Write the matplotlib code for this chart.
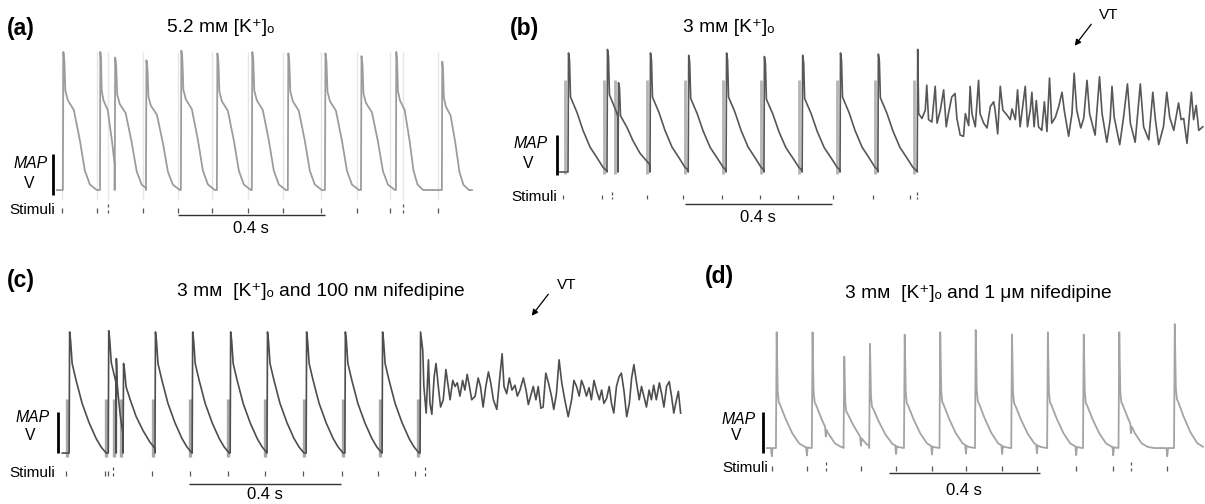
import numpy as np
import matplotlib

matplotlib.use("Agg")
import matplotlib.pyplot as plt
from matplotlib.patches import FancyArrowPatch

plt.rcParams["font.family"] = ["Liberation Sans", "DejaVu Sans"]

W, H = 1205, 504

# ---------------------------------------------------------------- data
# beat shapes: time after upstroke (ms) and MAP amplitude (% of peak)
A_SHAPE_T = [0, 1.4, 4.1, 6.8, 13.6, 29.9, 46.3, 59.9, 73.5, 92.5]
A_SHAPE_V = [0, 100, 94, 72, 65, 58, 36, 14, 4, 0]
B_SHAPE_T = [0, 1.4, 4.1, 6.8, 24.5, 40.8, 59.9, 78.9, 95.2, 108.8]
B_SHAPE_V = [0, 100, 94, 63, 50, 35, 21, 12, 4, 0]
C_SHAPE_T = [0, 1.3, 3.9, 7.9, 18.4, 34.2, 52.6, 71.1, 84.2, 97.4]
C_SHAPE_V = [0, 100, 93, 74, 60, 41, 25, 12, 5, 0]
D_SHAPE_T = [0, 1.9, 4.5, 7.2, 10.6, 23.8, 42.4, 60.9, 76.8, 92.7]
D_SHAPE_V = [0, 100, 49, 39, 37, 26, 13, 4, 1, 0]

# (a) 5.2 mM K+
A_BEATS = [0, 101, 141, 226, 321, 419, 514, 612, 713, 811, 906, 1031]
A_AMPS = [1.0, 1.0, 0.96, 0.94, 1.01, 0.99, 1.0, 0.99, 0.99, 0.97, 1.0, 0.93]
A_WIDTHS = [1, 0.7, 1, 1, 1, 1, 1, 1, 1, 1, 0.8, 0.8]
A_STIM = [-3, 93, 218, 313, 405, 503, 599, 702, 800, 890, 1020]
A_STIM_EXTRA = [122, 925]
A_START, A_END = -16, 1113

# (b) 3 mM K+
B_BEATS = [0, 106, 136, 223, 327, 430, 533, 637, 740, 843, 950]
B_AMPS = [1.0, 1.03, 0.75, 1.0, 0.98, 1.0, 0.97, 0.98, 1.0, 0.99, 1.03]
B_WIDTHS = [1] * 11
B_STIM = [-14, 93, 215, 313, 419, 522, 626, 721, 830, 930]
B_STIM_EXTRA = [120, 950]
B_START = -22
B_VT_T = [954, 963, 972, 976, 981, 990, 999, 1004, 1013, 1022, 1029, 1035,
          1044, 1053, 1058, 1067, 1076, 1081, 1090, 1094, 1099, 1108, 1117,
          1121, 1131, 1140, 1149, 1158, 1162, 1169, 1176, 1183, 1194, 1203,
          1208, 1217, 1223, 1230, 1244, 1250, 1258, 1262, 1268, 1274, 1280,
          1289, 1296, 1303, 1310, 1316, 1326, 1335, 1344, 1350, 1362, 1371,
          1377, 1384, 1395, 1403, 1412, 1419, 1428, 1434, 1446, 1453, 1466,
          1475, 1480, 1486, 1501, 1511, 1522, 1530, 1543, 1557, 1566, 1580,
          1591, 1598, 1607, 1620, 1629, 1637, 1648, 1661, 1668, 1675, 1684,
          1696, 1702, 1709, 1716, 1727]
B_VT_V = [49, 45, 52, 73, 44, 42, 72, 41, 52, 69, 38, 49,
          63, 66, 45, 31, 30, 49, 39, 72, 49, 38, 77,
          49, 41, 37, 55, 59, 52, 32, 72, 52, 48, 44,
          53, 44, 69, 38, 72, 38, 53, 67, 38, 60, 38,
          35, 59, 34, 79, 41, 46, 55, 67, 52, 30, 49,
          83, 52, 37, 45, 77, 49, 38, 31, 80, 49, 25,
          44, 72, 46, 23, 45, 74, 41, 25, 74, 38, 27,
          67, 44, 23, 38, 67, 46, 35, 58, 44, 45, 24,
          67, 44, 56, 35, 38]

# (c) 3 mM K+ and 100 nM nifedipine
C_BEATS = [0, 103, 124, 142, 226, 324, 424, 521, 624, 726, 824, 924]
C_AMPS = [1.0, 1.01, 0.78, 0.74, 1.0, 1.0, 1.0, 1.0, 1.0, 1.0, 1.0, 1.0]
C_WIDTHS = [1, 1, 0.3, 1, 1, 1, 1, 1, 1, 1, 1, 1]
C_STIM = [-8, 95, 103, 218, 318, 418, 516, 616, 718, 813, 911]
C_STIM_EXTRA = [116, 937]
C_START = -18
C_VT_T = [931, 934, 940, 946, 950, 955, 961, 966, 972, 978, 985, 992, 998,
          1003, 1010, 1016, 1022, 1029, 1036, 1042, 1048, 1054, 1060, 1069,
          1077, 1083, 1090, 1097, 1104, 1110, 1117, 1126, 1133, 1140, 1145,
          1152, 1159, 1166, 1174, 1180, 1187, 1196, 1203, 1209, 1215, 1222,
          1229, 1235, 1242, 1248, 1255, 1262, 1270, 1276, 1283, 1290, 1297,
          1305, 1314, 1323, 1329, 1336, 1343, 1349, 1355, 1362, 1369, 1375,
          1382, 1389, 1396, 1402, 1408, 1415, 1422, 1428, 1434, 1441, 1448,
          1454, 1461, 1468, 1475, 1481, 1487, 1494, 1501, 1507, 1513, 1520,
          1527, 1533, 1539, 1546, 1554, 1560, 1566, 1573, 1580, 1586, 1592,
          1599, 1604, 1610]
C_VT_V = [85, 55, 33, 77, 41, 32, 63, 74, 55, 38, 44, 69, 55,
          44, 60, 55, 58, 47, 60, 52, 65, 55, 44, 47,
          62, 55, 38, 55, 67, 58, 44, 36, 60, 82, 55,
          49, 62, 52, 56, 47, 52, 62, 52, 40, 47, 55,
          44, 55, 37, 38, 66, 58, 47, 36, 49, 77, 58,
          44, 30, 44, 60, 55, 47, 60, 55, 47, 54, 44,
          60, 51, 44, 52, 41, 45, 55, 41, 33, 55, 63,
          66, 51, 30, 41, 62, 73, 58, 44, 55, 47, 38,
          52, 44, 56, 44, 58, 49, 38, 55, 59, 47, 33,
          44, 51, 33]

# (d) 3 mM K+ and 1 uM nifedipine
D_BEATS = [0, 95, 179, 247, 339, 433, 527, 623, 718, 813, 907, 1054]
D_AMPS = [1.0, 1.0, 0.79, 0.9, 0.98, 1.0, 1.02, 0.98, 1.0, 0.98, 1.0, 1.07]
D_WIDTHS = [1] * 12
D_STIM = [-11, 82, 225, 318, 413, 503, 599, 691, 795, 893, 1036]
D_STIM_EXTRA = [132, 940]
D_START, D_END = -24, 1131


# ---------------------------------------------------------------- helpers
def fig_xy(x, y):
    return x / W, 1 - y / H


def build_trace(shape_t, shape_v, beats, amps, widths, start, end, vt_t=None, vt_v=None):
    ts, vs = [start], [0.0]
    stop = vt_t[0] if vt_t else end
    ends = list(beats[1:]) + [stop]
    for i, (t0, a, w, t1) in enumerate(zip(beats, amps, widths, ends)):
        tt = np.asarray(shape_t, float) * w
        vv = np.asarray(shape_v, float) * a
        keep = tt < (t1 - t0)
        ts.extend(t0 + tt[keep])
        vs.extend(vv[keep])
        if not (vt_t and i == len(beats) - 1):
            ts.append(t1)
            vs.append(np.interp(t1 - t0, tt, vv))
    if vt_t:
        ts.extend(vt_t)
        vs.extend(vt_v)
    return np.array(ts), np.array(vs)


def panel_axes(fig, box, xlim, ylim):
    left, top, right, bottom = box
    ax = fig.add_axes([left / W, 1 - bottom / H, (right - left) / W, (bottom - top) / H])
    ax.set_xlim(*xlim)
    ax.set_ylim(*ylim)
    ax.axis("off")
    return ax


def stimuli(ax, stim, extra, v_top, v_bot):
    ax.vlines(stim, v_bot, v_top, color="#555555", lw=0.9)
    h = (v_top - v_bot) * 0.8
    ax.vlines(extra, v_top + 0.15 * h, v_top + h, color="#555555", lw=0.9)
    ax.vlines(extra, v_bot, v_bot + 0.75 * h, color="#555555", lw=0.9)


def scale_bars(ax, map_t, map_v, bar_t0, bar_v, label_v):
    ax.vlines(map_t, map_v[0], map_v[1], color="black", lw=2.0)
    ax.hlines(bar_v, bar_t0, bar_t0 + 400, color="#333333", lw=1.0)
    ax.text(bar_t0 + 200, label_v, "0.4 s", ha="center", va="center", fontsize=12)


def labels(fig, tag, tag_xy, title, title_xy, map_xy, v_xy, stim_xy):
    fig.text(*fig_xy(*tag_xy), tag, fontsize=16.5, fontweight="bold", va="center")
    fig.text(*fig_xy(*title_xy), title, fontsize=13.8, va="center")
    fig.text(*fig_xy(*map_xy), "MAP", fontsize=11.3, style="italic", ha="center", va="center")
    fig.text(*fig_xy(*v_xy), "V", fontsize=11.3, ha="center", va="center")
    fig.text(*fig_xy(*stim_xy), "Stimuli", fontsize=11, ha="right", va="center")


def vt_arrow(fig, text_xy, tail, head):
    fig.text(*fig_xy(*text_xy), "VT", fontsize=11, ha="center", va="center")
    fig.add_artist(FancyArrowPatch(fig_xy(*tail), fig_xy(*head), transform=fig.transFigure,
                                   arrowstyle="-|>", mutation_scale=9, lw=0.9, color="black"))


fig = plt.figure(figsize=(W / 100, H / 100), dpi=100)

# ---------------------------------------------------------------- (a)
ax = panel_axes(fig, (0, 40, 490, 240), (-171, 1162), (-36.2, 108.7))
ax.vlines(A_STIM + A_STIM_EXTRA, -7, 100, color="#e6e6e6", lw=1.0)
t, v = build_trace(A_SHAPE_T, A_SHAPE_V, A_BEATS, A_AMPS, A_WIDTHS, A_START, A_END)
ax.plot(t, v, color="#a2a2a2", lw=1.3)
ax.plot(t, v, color="#8a8a8a", lw=0.6, ls=(0, (1, 2)))
stimuli(ax, A_STIM, A_STIM_EXTRA, -13, -16.7)
scale_bars(ax, -27, (26, -3.6), 313, -18.1, -27.6)
labels(fig, "(a)", (7, 28), "5.2 m\u1d0d [K\u207a]\u2092", (167, 28),
       (31, 163), (29, 183), (55, 210))

# ---------------------------------------------------------------- (b)
ax = panel_axes(fig, (500, 0, 1205, 240), (-185, 1733), (-57.1, 144.5))
ax.vlines(np.array(B_BEATS) - 8, -2, 77, color="#b4b4b4", lw=2.0)
t, v = build_trace(B_SHAPE_T, B_SHAPE_V, B_BEATS, B_AMPS, B_WIDTHS, B_START, None, B_VT_T, B_VT_V)
ax.plot(t, v, color="#575757", lw=1.2)
stimuli(ax, B_STIM, B_STIM_EXTRA, -19.3, -22.7)
scale_bars(ax, -30, (31, -2.5), 318, -26.9, -38.6)
labels(fig, "(b)", (510, 28), "3 m\u1d0d [K\u207a]\u2092", (683, 28),
       (531, 143), (528, 163), (557, 197))
vt_arrow(fig, (1109, 15), (1093, 22), (1073, 48))

# ---------------------------------------------------------------- (c)
ax = panel_axes(fig, (0, 300, 700, 504), (-182, 1661), (-42.1, 126.4))
ax.vlines(np.array(C_BEATS) - 6, -3, 45, color="#a8a8a8", lw=2.4)
t, v = build_trace(C_SHAPE_T, C_SHAPE_V, C_BEATS, C_AMPS, C_WIDTHS, C_START, None, C_VT_T, C_VT_V)
ax.plot(t, v, color="#4e4e4e", lw=1.2)
stimuli(ax, C_STIM, C_STIM_EXTRA, -14.9, -19.0)
scale_bars(ax, -29, (33.9, 0), 316, -25.6, -34.0)
labels(fig, "(c)", (7, 281), "3 m\u1d0d  [K\u207a]\u2092 and 100 n\u1d0d nifedipine", (177, 292),
       (33, 418), (30, 435), (55, 473))
vt_arrow(fig, (567, 285), (550, 292), (530, 318))

# ---------------------------------------------------------------- (d)
ax = panel_axes(fig, (700, 300, 1205, 504), (-201, 1136), (-47.4, 125.4))
t, v = build_trace(D_SHAPE_T, D_SHAPE_V, D_BEATS, D_AMPS, D_WIDTHS, D_START, D_END)
grid = np.arange(D_START, D_END, 0.25)
vg = np.interp(grid, t, v)
for s in D_STIM + D_STIM_EXTRA:
    vg -= 7 * np.clip(1 - np.abs(grid - s) / 2.0, 0, None)
ax.plot(grid, vg, color="#a4a4a4", lw=1.3)
stimuli(ax, D_STIM, D_STIM_EXTRA, -15.2, -19.5)
scale_bars(ax, -34, (30.5, -4.2), 299, -21.2, -35.6)
labels(fig, "(d)", (705, 276), "3 m\u1d0d  [K\u207a]\u2092 and 1 \u03bc\u1d0d nifedipine", (845, 293),
       (739, 419), (736, 436), (768, 468))

fig.savefig("out.png", dpi=100)
